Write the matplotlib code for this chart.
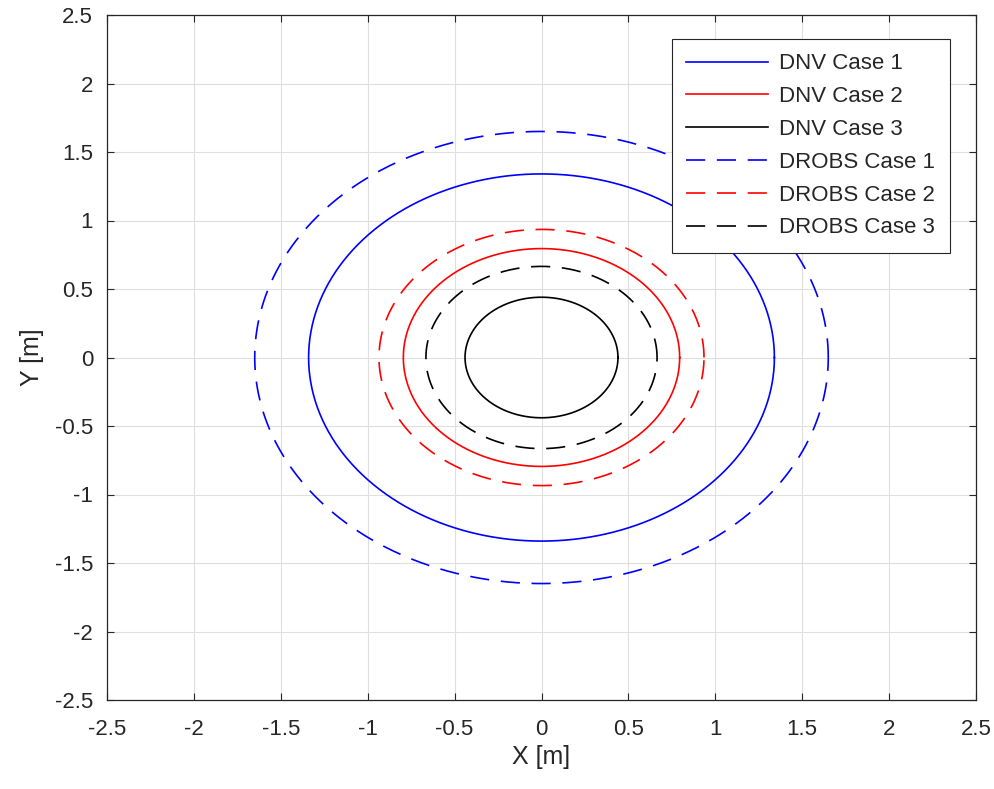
import numpy as np
import matplotlib
matplotlib.use("Agg")
import matplotlib.pyplot as plt

plt.rcParams['font.family'] = ['Liberation Sans', 'DejaVu Sans']

labels = ["DNV Case 1", "DNV Case 2", "DNV Case 3",
          "DROBS Case 1", "DROBS Case 2", "DROBS Case 3"]
radii = [1.34, 0.795, 0.44, 1.65, 0.935, 0.665]
colors = ["#0000ff", "#ff0000", "#000000", "#0000ff", "#ff0000", "#000000"]
styles = ["-", "-", "-", "--", "--", "--"]
ticks = [-2.5, -2, -1.5, -1, -0.5, 0, 0.5, 1, 1.5, 2, 2.5]
tick_labels = ["-2.5", "-2", "-1.5", "-1", "-0.5", "0", "0.5", "1", "1.5", "2", "2.5"]

fig = plt.figure(figsize=(9.94, 7.89), dpi=100)
ax = fig.add_axes([107/994, 89/789, 869/994, 685/789])

theta = np.linspace(0, 2*np.pi, 721)
for r, c, s, lab in zip(radii, colors, styles, labels):
    if s == "--":
        ax.plot(r*np.cos(theta), r*np.sin(theta), color=c, lw=1.2,
                dashes=(11.5, 7), label=lab)
    else:
        ax.plot(r*np.cos(theta), r*np.sin(theta), color=c, lw=1.2, label=lab)

ax.set_xlim(-2.5, 2.5)
ax.set_ylim(-2.5, 2.5)
ax.set_xticks(ticks)
ax.set_xticklabels(tick_labels)
ax.set_yticks(ticks)
ax.set_yticklabels(tick_labels)
ax.tick_params(direction='in', length=5, width=0.8, labelsize=16,
               colors='#262626', top=True, right=True)
ax.xaxis.set_tick_params(pad=14)
ax.yaxis.set_tick_params(pad=10)
ax.grid(True, color='#dfdfdf', lw=0.8)
ax.set_axisbelow(True)
for sp in ax.spines.values():
    sp.set_color('#262626')
    sp.set_linewidth(0.9)
ax.set_xlabel("X [m]", fontsize=18, color='#262626', labelpad=3)
ax.set_ylabel("Y [m]", fontsize=18, color='#262626', labelpad=8)

leg = ax.legend(loc='upper right', bbox_to_anchor=(0.970, 0.965), fontsize=16,
                frameon=True, fancybox=False, edgecolor='#262626', framealpha=1,
                handlelength=3.7, borderpad=0.65, labelspacing=0.53,
                handletextpad=0.5, borderaxespad=0)
leg.get_frame().set_linewidth(0.8)
for t in leg.get_texts():
    t.set_color('#262626')

fig.savefig("out.png", dpi=100)
